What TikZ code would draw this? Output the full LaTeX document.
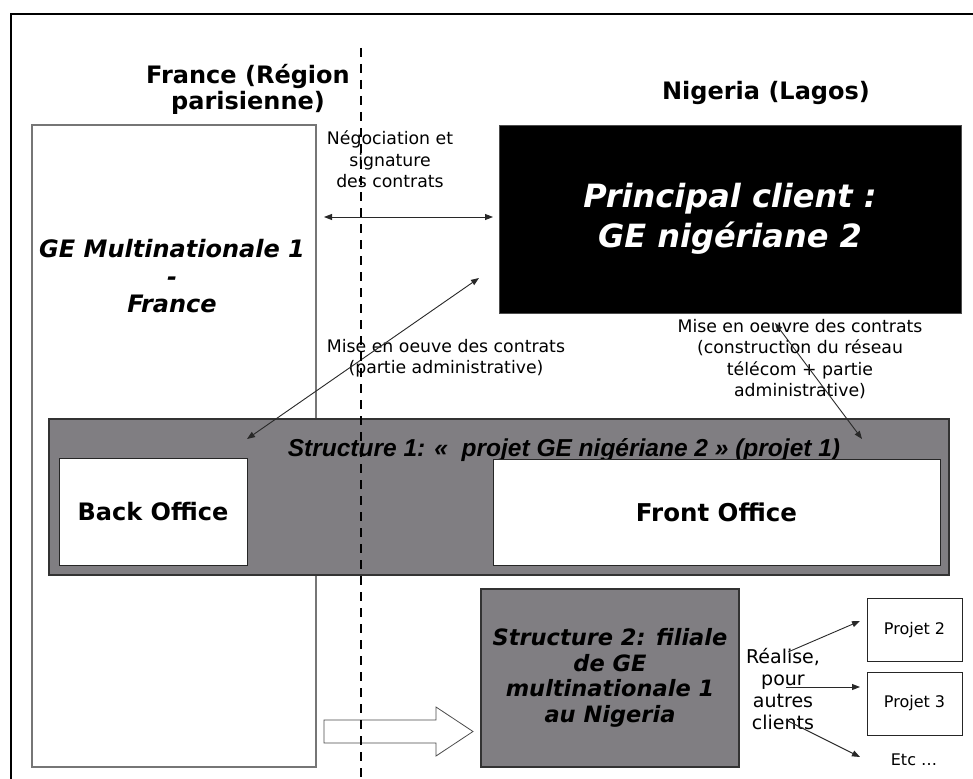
\documentclass[tikz,border=0pt]{standalone}
\usepackage{fontspec}
\setmainfont{DejaVu Sans}
\newfontfamily\libsans{Liberation Sans}
\usetikzlibrary{arrows.meta}
\definecolor{midgray}{RGB}{128,126,130}
\definecolor{edgegray}{RGB}{118,118,118}
\definecolor{linegray}{RGB}{40,40,40}
\begin{document}
\begin{tikzpicture}[x=1pt,y=-1pt,
  plainbox/.style={draw=black!85, line width=1pt, fill=white, inner sep=0pt},
  graybox/.style={draw=black!80, line width=1.2pt, fill=midgray, inner sep=0pt},
  conn/.style={draw=linegray, line width=0.9pt},
  tipboth/.style={conn, {Triangle[length=8pt,width=6pt]}-{Triangle[length=8pt,width=6pt]}},
  tipend/.style={conn, -{Triangle[length=8pt,width=6pt]}},
  lbl/.style={align=center, inner sep=0pt, font=\fontsize{17.3}{21.3}\selectfont},
  heading/.style={inner sep=0pt, font=\fontsize{24}{26}\selectfont\bfseries}
]
\useasboundingbox (0,0) rectangle (973,778);
\fill[white] (0,0) rectangle (973,778);

% outer frame (cut at right and bottom)
\draw[line width=2.5pt] (11,780) -- (11,14) -- (975,14);

% France side
\node[draw=edgegray, line width=1.5pt, fill=white, minimum width=284pt, minimum height=642pt, inner sep=0pt] (france) at (174,446) {};
\node[align=center, inner sep=0pt, font=\fontsize{24}{27.5}\selectfont\bfseries\itshape] (gem) at (172,276.5) {GE Multinationale 1\\-\\France};

% headings
\node[heading, align=center] (frlabel) at (248,89) {France (Région\\parisienne)};
\node[heading, anchor=base] (nglabel) at (766,100) {Nigeria (Lagos)};

% principal client
\node[fill=black, draw=black!70, minimum width=462pt, minimum height=188pt, inner sep=0pt, text=white, align=center, font=\fontsize{32}{40}\selectfont\bfseries\itshape] (client) at (730,219) {Principal client :\\GE nigériane 2};

% labels
\node[lbl] (neg) at (390,159.5) {Négociation et\\signature\\des contrats};
\node[lbl] (mise1) at (446,358) {Mise en oeuve des contrats\\(partie administrative)};
\node[lbl] (mise2) at (800,359) {Mise en oeuvre des contrats\\(construction du réseau\\télécom + partie\\administrative)};

% structure 1
\node[graybox, minimum width=900pt, minimum height=156pt] (s1) at (499,497) {};
\node[anchor=base, inner sep=0pt, font=\libsans\fontsize{24.5}{28}\selectfont\bfseries\itshape] (s1title) at (564,456) {Structure 1: «~ projet GE nigériane 2 » (projet 1)};
\node[plainbox, minimum width=188pt, minimum height=107pt, font=\fontsize{24}{28}\selectfont\bfseries] (back) at (153,511.5) {Back Office};
\node[plainbox, minimum width=447pt, minimum height=106pt, font=\fontsize{24.5}{28}\selectfont\bfseries] (front) at (716.5,512) {Front Office};

% structure 2
\node[graybox, minimum width=258pt, minimum height=178pt, align=center, font=\fontsize{22.5}{25.5}\selectfont\bfseries\itshape] (s2) at (610,678) {Structure 2: filiale\\de GE\\multinationale 1\\au Nigeria};

\node[align=center, inner sep=0pt, font=\fontsize{19}{22}\selectfont] (realise) at (783,689.5) {Réalise,\\pour\\autres\\clients};

\node[plainbox, line width=0.8pt, minimum width=95pt, minimum height=63pt, font=\fontsize{16}{19}\selectfont] (p2) at (914.5,630) {Projet 2};
\node[plainbox, line width=0.8pt, minimum width=95pt, minimum height=63pt, font=\fontsize{16}{19}\selectfont] (p3) at (914.5,703.5) {Projet 3};
\node[inner sep=0pt, font=\fontsize{16}{19}\selectfont] (etc) at (914,760) {Etc …};

% connector end points
\coordinate (negA) at (324,217);
\coordinate (negB) at (493,217);
\coordinate (admA) at (247,439);
\coordinate (admB) at (479,278);
\coordinate (telA) at (775,323);
\coordinate (telB) at (862,439);
\coordinate (r1) at (788,652);
\coordinate (r2) at (786,687);
\coordinate (r3) at (786,720);
\coordinate (t1) at (860,621);
\coordinate (t2) at (860,687);
\coordinate (t3) at (860,757);

\draw[tipboth] (negA) -- (negB);
\draw[tipboth] (admA) -- (admB);
\draw[tipboth] (telA) -- (telB);
\draw[tipend] (r1) -- (t1);
\draw[tipend] (r2) -- (t2);
\draw[tipend] (r3) -- (t3);

% block arrow towards structure 2
\draw[draw=black!70, line width=0.8pt, fill=white] (324,720) -- (436,720) -- (436,707) -- (473,731.5) -- (436,756) -- (436,743) -- (324,743) -- cycle;

% dashed border line
\draw[line width=2pt, dash pattern=on 9pt off 7pt] (361,48) -- (361,780);
\end{tikzpicture}
\end{document}
